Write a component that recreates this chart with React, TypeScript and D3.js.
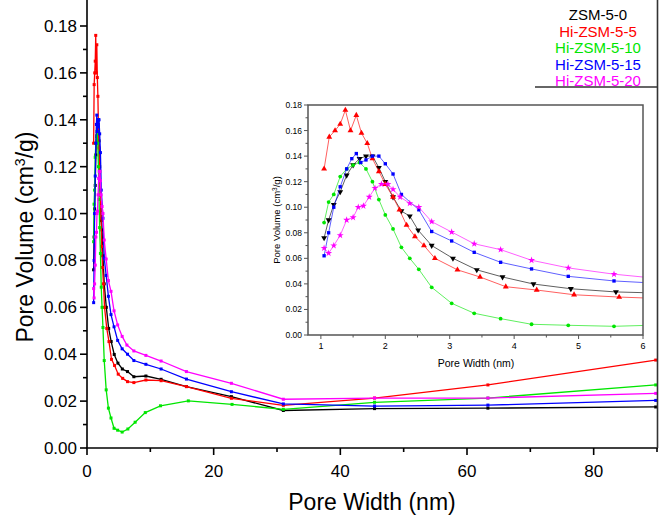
import * as d3 from 'd3';

const NAMES = ['ZSM-5-0', 'Hi-ZSM-5-5', 'Hi-ZSM-5-10', 'Hi-ZSM-5-15', 'Hi-ZSM-5-20'];
const COLORS = ['#000000', '#ff0000', '#00e600', '#0000ff', '#ff00ff'];
const SYMBOLS = ['down', 'up', 'circle', 'square', 'star'];

// pore width (nm) / pore volume (cm3/g), one pair per sample
const X0 = [1.05, 1.12, 1.2, 1.3, 1.4, 1.5, 1.6, 1.7, 1.8, 1.9, 2.0, 2.12, 2.25, 2.38, 2.51, 2.72, 3.05, 3.42, 3.82, 4.3, 4.88, 5.58, 6.4, 7.4, 9.3, 11.7, 15.7, 22.8, 31.0, 45.4, 63.3, 89.8];
const Y0 = [0.076, 0.09, 0.102, 0.112, 0.125, 0.133, 0.138, 0.14, 0.14, 0.131, 0.12, 0.108, 0.097, 0.093, 0.082, 0.07, 0.06, 0.051, 0.0454, 0.0399, 0.0362, 0.0337, 0.0326, 0.0304, 0.0307, 0.0293, 0.0262, 0.0219, 0.016, 0.0168, 0.017, 0.0175];

const X5 = [1.05, 1.13, 1.22, 1.3, 1.38, 1.46, 1.55, 1.63, 1.72, 1.8, 1.9, 2.0, 2.12, 2.22, 2.33, 2.46, 2.6, 2.77, 3.12, 3.47, 3.87, 4.35, 4.93, 5.63, 6.4, 7.4, 9.3, 11.7, 15.7, 22.8, 31.0, 45.4, 63.3, 89.8];
const Y5 = [0.13, 0.155, 0.16, 0.165, 0.176, 0.16, 0.172, 0.158, 0.15, 0.138, 0.128, 0.118, 0.108, 0.098, 0.086, 0.077, 0.07, 0.06, 0.051, 0.0454, 0.0378, 0.0352, 0.0315, 0.0297, 0.0283, 0.0279, 0.029, 0.0287, 0.0262, 0.0212, 0.0182, 0.0213, 0.0269, 0.0375];

const X10 = [1.05, 1.12, 1.2, 1.3, 1.4, 1.5, 1.6, 1.7, 1.8, 1.9, 2.0, 2.12, 2.25, 2.38, 2.52, 2.72, 3.03, 3.38, 3.79, 4.27, 4.84, 5.55, 6.45, 7.6, 9.2, 11.6, 16.0, 22.9, 31.0, 45.4, 63.3, 89.8];
const Y10 = [0.088, 0.104, 0.11, 0.124, 0.13, 0.133, 0.135, 0.13, 0.12, 0.106, 0.094, 0.083, 0.0686, 0.06, 0.0514, 0.0373, 0.0248, 0.017, 0.0128, 0.0084, 0.0076, 0.0068, 0.0081, 0.011, 0.0151, 0.018, 0.0201, 0.0186, 0.0165, 0.0195, 0.0213, 0.0269];

const X15 = [1.05, 1.12, 1.2, 1.3, 1.4, 1.48, 1.55, 1.62, 1.7, 1.8, 1.9, 2.0, 2.12, 2.25, 2.52, 2.72, 3.03, 3.38, 3.79, 4.27, 4.84, 5.55, 6.4, 7.4, 9.3, 11.7, 15.7, 22.8, 31.0, 45.4, 63.3, 89.8];
const Y15 = [0.062, 0.08, 0.1, 0.116, 0.13, 0.138, 0.142, 0.135, 0.137, 0.14, 0.14, 0.134, 0.126, 0.11, 0.098, 0.081, 0.0736, 0.0647, 0.0569, 0.0517, 0.0459, 0.0423, 0.04, 0.0373, 0.0357, 0.0337, 0.0294, 0.024, 0.0188, 0.0179, 0.0183, 0.0203];

const X20 = [1.05, 1.12, 1.2, 1.3, 1.4, 1.5, 1.58, 1.66, 1.75, 1.84, 1.94, 2.04, 2.12, 2.23, 2.38, 2.52, 2.72, 3.03, 3.38, 3.79, 4.27, 4.84, 5.55, 6.3, 7.4, 9.3, 11.7, 15.7, 22.8, 31.0, 45.4, 63.3, 89.8];
const Y20 = [0.068, 0.064, 0.07, 0.078, 0.09, 0.092, 0.1, 0.101, 0.108, 0.115, 0.118, 0.118, 0.114, 0.108, 0.103, 0.1, 0.0887, 0.0806, 0.0714, 0.0668, 0.0585, 0.0525, 0.0476, 0.0439, 0.0414, 0.0395, 0.0371, 0.0326, 0.0276, 0.0208, 0.0213, 0.0213, 0.0233];

const XS = [X0, X5, X10, X15, X20];
const YS = [Y0, Y5, Y10, Y15, Y20];

const MAIN_XTICKS = [0, 20, 40, 60, 80];
const MAIN_YTICKS = [0, 0.02, 0.04, 0.06, 0.08, 0.1, 0.12, 0.14, 0.16, 0.18];
const INSET_XTICKS = [1, 2, 3, 4, 5, 6];
const INSET_YTICKS = [0, 0.02, 0.04, 0.06, 0.08, 0.1, 0.12, 0.14, 0.16, 0.18];

const FONT = '"Liberation Sans", Arial, sans-serif';

function marker(kind: string, size: number) {
  if (kind === 'down' || kind === 'up') return d3.symbol().type(d3.symbolTriangle).size(size)();
  if (kind === 'circle') return d3.symbol().type(d3.symbolCircle).size(size * 0.75)();
  if (kind === 'square') return d3.symbol().type(d3.symbolSquare).size(size * 0.75)();
  return d3.symbol().type(d3.symbolStar).size(size)();
}

export default function App() {
  const mx = d3.scaleLinear().domain([0, 90]).range([87, 657]);
  const my = d3.scaleLinear().domain([0, 0.18]).range([448, 26]);
  const ix = d3.scaleLinear().domain([0.8, 6]).range([308, 643]);
  const iy = d3.scaleLinear().domain([0, 0.18]).range([335, 105]);

  const mainLine = (xs: number[], ys: number[]) =>
    d3.line<number>().x((_, i) => mx(xs[i])).y((d) => my(d))(ys);
  // inset keeps one point past 6 nm so the line runs to the frame (clipped)
  const insetLine = (xs: number[], ys: number[]) => {
    const n = xs.findIndex((x) => x > 6) + 1;
    return d3.line<number>().x((_, i) => ix(xs[i])).y((d) => iy(d))(ys.slice(0, n));
  };

  const mainMinorX = d3.range(0, 91, 10);
  const mainMinorY = d3.range(0, 0.181, 0.01);
  const insetMinorX = d3.range(1, 6.01, 0.5);
  const insetMinorY = d3.range(0, 0.181, 0.01);

  return (
    <div style={{ position: 'fixed', left: 0, top: 0 }}>
      <svg width={661} height={520} style={{ display: 'block', background: '#fff' }} fontFamily={FONT}>
        <defs>
          <clipPath id="insetClip">
            <rect x={308} y={105} width={335} height={230} />
          </clipPath>
        </defs>
        {/* main data */}
        {YS.map((ys, s) => (
          <g key={s}>
            <path d={mainLine(XS[s], ys) || ''} fill="none" stroke={COLORS[s]} strokeWidth={1.3} />
            {ys.map((v, i) => (
              <rect key={i} x={mx(XS[s][i]) - 1.5} y={my(v) - 1.5} width={3} height={3} fill={COLORS[s]} />
            ))}
          </g>
        ))}

        {/* main axes */}
        <g stroke="#000" strokeWidth={1.6}>
          <line x1={87} x2={87} y1={0} y2={448} />
          <line x1={86} x2={658} y1={448} y2={448} />
          <line x1={657.5} x2={657.5} y1={0} y2={448} stroke="#333" />
          {mainMinorX.map((t) => (
            <line key={'mx' + t} x1={mx(t)} x2={mx(t)} y1={448} y2={t % 20 === 0 ? 455 : 452} />
          ))}
          {mainMinorY.map((t, i) => (
            <line key={'my' + i} x1={i % 2 === 0 ? 80 : 83} x2={87} y1={my(t)} y2={my(t)} />
          ))}
        </g>
        {MAIN_XTICKS.map((t) => (
          <text key={t} x={mx(t)} y={477} fontSize={17} textAnchor="middle">{t}</text>
        ))}
        {MAIN_YTICKS.map((t) => (
          <text key={t} x={77} y={my(t) + 6} fontSize={17} textAnchor="end">{t.toFixed(2)}</text>
        ))}
        <text x={372} y={510} fontSize={23} textAnchor="middle">Pore Width (nm)</text>
        <text transform={`translate(33,237) rotate(-90)`} fontSize={23} textAnchor="middle">
          Pore Volume (cm<tspan baselineShift="super" fontSize={14}>3</tspan>/g)
        </text>

        {/* legend */}
        <line x1={535} x2={658} y1={87} y2={87} stroke="#333" strokeWidth={1.5} />
        {NAMES.map((n, i) => (
          <text key={n} x={598} y={20 + i * 16.5} fontSize={15} textAnchor="middle" fill={COLORS[i]}>{n}</text>
        ))}

        {/* inset */}
        <rect x={308} y={105} width={335} height={230} fill="#fff" />
        <g clipPath="url(#insetClip)">
          {YS.map((ys, s) => (
            <g key={'i' + s}>
              <path d={insetLine(XS[s], ys) || ''} fill="none" stroke={COLORS[s]} strokeWidth={0.9} opacity={0.7} />
              {ys.map((v, i) =>
                XS[s][i] <= 6 ? (
                  <path
                    key={i}
                    d={marker(SYMBOLS[s], 15) || ''}
                    transform={`translate(${ix(XS[s][i])},${iy(v)})${SYMBOLS[s] === 'down' ? ' rotate(180)' : ''}`}
                    fill={COLORS[s]}
                  />
                ) : null
              )}
            </g>
          ))}
        </g>
        <rect x={308} y={105} width={335} height={230} fill="none" stroke="#555" strokeWidth={1.5} />
        <g stroke="#555" strokeWidth={1}>
          {insetMinorX.map((t, i) => (
            <line key={'ix' + i} x1={ix(t)} x2={ix(t)} y1={335} y2={i % 2 === 0 ? 339 : 337.5} />
          ))}
          {insetMinorY.map((t, i) => (
            <line key={'iy' + i} x1={i % 2 === 0 ? 304 : 305.5} x2={308} y1={iy(t)} y2={iy(t)} />
          ))}
        </g>
        {INSET_XTICKS.map((t) => (
          <text key={t} x={ix(t)} y={349} fontSize={9} textAnchor="middle">{t}</text>
        ))}
        {INSET_YTICKS.map((t) => (
          <text key={t} x={302} y={iy(t) + 3} fontSize={8.5} textAnchor="end">{t.toFixed(2)}</text>
        ))}
        <text x={476} y={367} fontSize={10.5} textAnchor="middle">Pore Width (nm)</text>
        <text transform={`translate(280,220) rotate(-90)`} fontSize={9.5} textAnchor="middle">
          Pore Volume (cm<tspan baselineShift="super" fontSize={6.5}>3</tspan>/g)
        </text>
      </svg>
    </div>
  );
}
